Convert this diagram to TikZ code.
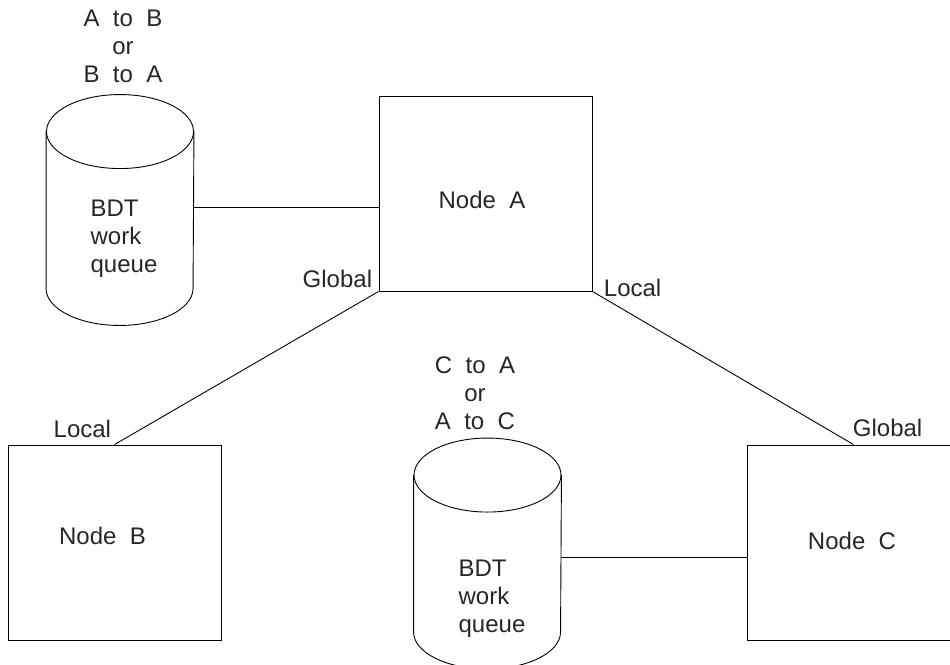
\documentclass[tikz,border=0pt]{standalone}
\usepackage{fontspec}
\setmainfont{Liberation Sans}
\usepackage{tikz}
\usetikzlibrary{positioning}

\begin{document}
\begin{tikzpicture}[x=1pt, y=-1pt, line width=0.9pt]
\tikzset{BoxStyle/.style = {draw, minimum width=213pt, minimum height=195pt, inner sep=0pt}}
\tikzset{QueueStyle/.style = {minimum width=147pt, minimum height=156pt, inner sep=0pt}}
\tikzset{TextStyle/.style = {font=\fontsize{24}{28}\selectfont, text=black!85, inner sep=0pt}}
	\useasboundingbox (0,0) rectangle (950,664);
	\node[BoxStyle] (nA) at (485.5,193.5) {};
	\node[BoxStyle] (nB) at (114.5,542.5) {};
	\node[BoxStyle] (nC) at (853.5,542.5) {};
	\node[TextStyle] (tA) at ([xshift=-3.5pt, yshift=-6pt]nA.center) {Node~~A};
	\node[TextStyle] (tB) at ([xshift=-12pt, yshift=7pt]nB.center) {Node~~B};
	\node[TextStyle] (tC) at ([xshift=-1.5pt, yshift=1.5pt]nC.center) {Node~~C};
	\node[QueueStyle] (qAB) at (120,210) {};
	\node[QueueStyle] (qAC) at (487.5,553.5) {};
	\foreach \q in {qAB,qAC} {
		\draw (\q.north) ellipse [x radius=73.5pt, y radius=37pt];
		\draw (\q.north west) -- (\q.south west) arc [start angle=180, end angle=360, x radius=73.5pt, y radius=37pt] -- (\q.north east);
	}
	\node[TextStyle, align=left, anchor=base] (tAB) at (124,272) {BDT\\work\\queue};
	\node[TextStyle, align=left, anchor=base] (tAC) at (492,632) {BDT\\work\\queue};
	\node[TextStyle, align=center, anchor=base] (dAB) at (123,82) {A~~to~~B\\or\\B~~to~~A};
	\node[TextStyle, align=center, anchor=base] (dAC) at (475,429) {C~~to~~A\\or\\A~~to~~C};
	\draw ([yshift=3pt]qAB.east) -- ([yshift=3pt]qAB.east -| nA.west);
	\draw ([yshift=-3.5pt]qAC.east) -- ([yshift=-3.5pt]qAC.east -| nC.west);
	\draw (nA.south west) -- (nB.north);
	\draw (nA.south east) -- (nC.north);
	\node[TextStyle, anchor=base east] (gA) at ([xshift=-6pt, yshift=4pt]nA.south west) {Global};
	\node[TextStyle, anchor=base west] (lA) at ([xshift=11pt, yshift=-5pt]nA.south east) {Local};
	\node[TextStyle, anchor=base east] (lB) at ([xshift=-3pt, yshift=7pt]nB.north) {Local};
	\node[TextStyle, anchor=base west] (gC) at ([xshift=-1pt, yshift=8pt]nC.north) {Global};
\end{tikzpicture}
\end{document}
